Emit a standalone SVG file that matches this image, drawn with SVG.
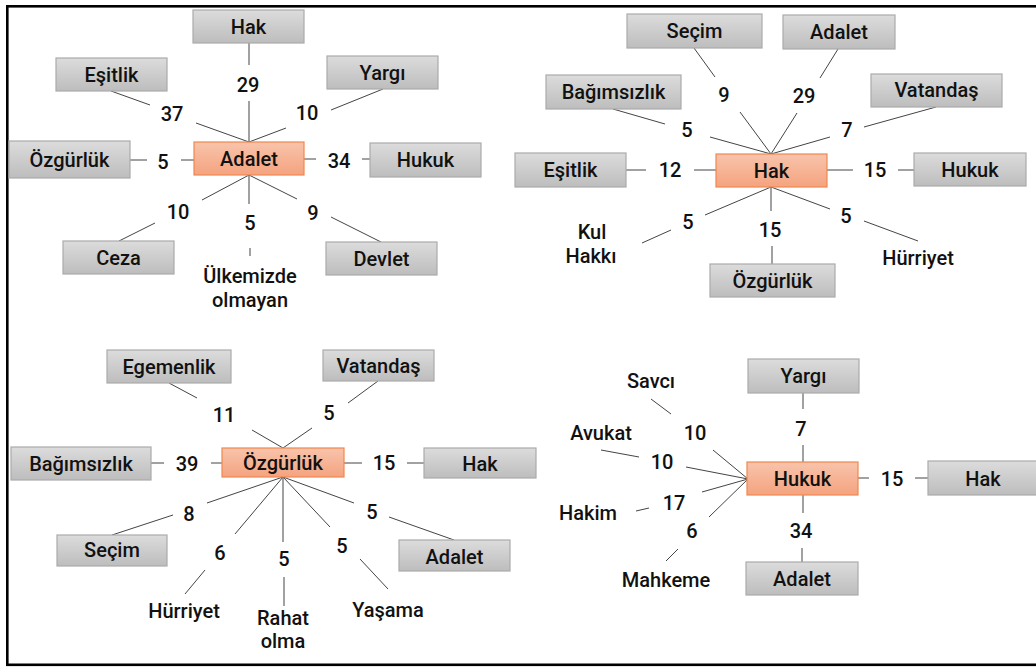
<svg xmlns="http://www.w3.org/2000/svg" width="1036" height="667" viewBox="0 0 1036 667">
  <defs>
    <linearGradient id="grayFill" x1="0" y1="0" x2="0" y2="1">
      <stop offset="0" stop-color="#dcdcdc"/>
      <stop offset="1" stop-color="#bdbdbd"/>
    </linearGradient>
    <linearGradient id="coreFill" x1="0" y1="0" x2="0" y2="1">
      <stop offset="0" stop-color="#f8c4ab"/>
      <stop offset="1" stop-color="#f4a37f"/>
    </linearGradient>
  </defs>
  <style>
    text { font-family: Roboto, "Liberation Sans", sans-serif; font-size: 20px; font-weight: 500; fill: #111; text-anchor: middle; }
    .box { fill: url(#grayFill); stroke: #ababab; stroke-width: 1.2; }
    .core { fill: url(#coreFill); stroke: #f0884f; stroke-width: 1.2; }
    .lbl { fill: #ffffff; stroke: none; }
    .edges line { stroke: #444; stroke-width: 1; }
    .frame { fill: none; stroke: #000; stroke-width: 2.6; }
  </style>

  <rect width="1036" height="667" fill="#ffffff"/>
  <rect class="frame" x="7.3" y="6.3" width="1040" height="658.5"/>

  <!-- label backgrounds -->
  <g id="label-backgrounds">
    <rect class="lbl" x="228" y="65" width="42" height="36"/>
    <rect class="lbl" x="150" y="104" width="46" height="30"/>
    <rect class="lbl" x="286" y="97" width="44" height="32"/>
    <rect class="lbl" x="147" y="144" width="34" height="34"/>
    <rect class="lbl" x="317" y="143" width="45" height="34"/>
    <rect class="lbl" x="158" y="195" width="44" height="32"/>
    <rect class="lbl" x="228" y="205" width="45" height="34"/>
    <rect class="lbl" x="297" y="195" width="32" height="32"/>

    <rect class="lbl" x="708" y="78" width="32" height="34"/>
    <rect class="lbl" x="778" y="77" width="52" height="36"/>
    <rect class="lbl" x="665" y="114" width="43" height="34"/>
    <rect class="lbl" x="830" y="114" width="34" height="34"/>
    <rect class="lbl" x="646" y="153" width="48" height="34"/>
    <rect class="lbl" x="853" y="153" width="45" height="34"/>
    <rect class="lbl" x="671" y="203" width="34" height="35"/>
    <rect class="lbl" x="748" y="211" width="46" height="35"/>
    <rect class="lbl" x="830" y="200" width="34" height="32"/>

    <rect class="lbl" x="197" y="397" width="53" height="35"/>
    <rect class="lbl" x="313" y="394" width="34" height="35"/>
    <rect class="lbl" x="165" y="446" width="45" height="31"/>
    <rect class="lbl" x="362" y="447" width="45" height="31"/>
    <rect class="lbl" x="173" y="500" width="34" height="28"/>
    <rect class="lbl" x="205" y="535" width="30" height="35"/>
    <rect class="lbl" x="268" y="542" width="32" height="35"/>
    <rect class="lbl" x="327" y="527" width="32" height="32"/>
    <rect class="lbl" x="354" y="500" width="35" height="30"/>

    <rect class="lbl" x="668" y="415" width="56" height="34"/>
    <rect class="lbl" x="783" y="409" width="43" height="36"/>
    <rect class="lbl" x="869" y="462" width="46" height="34"/>
    <rect class="lbl" x="780" y="513" width="45" height="35"/>
    <rect class="lbl" x="639" y="449" width="47" height="28"/>
    <rect class="lbl" x="650" y="492" width="50" height="28"/>
    <rect class="lbl" x="678" y="518" width="30" height="30"/>
  </g>

  <!-- connectors -->
  <g id="connectors" class="edges">
    <!-- Adalet -->
    <line x1="249" y1="43" x2="249" y2="65"/>
    <line x1="249" y1="101" x2="249" y2="142"/>
    <line x1="111" y1="91" x2="150" y2="105"/>
    <line x1="196" y1="123" x2="249" y2="142"/>
    <line x1="383" y1="89" x2="331" y2="110"/>
    <line x1="286" y1="128" x2="249" y2="142"/>
    <line x1="130" y1="160" x2="147" y2="160"/>
    <line x1="181" y1="160" x2="194" y2="160"/>
    <line x1="304" y1="159" x2="316" y2="159"/>
    <line x1="362" y1="159" x2="370" y2="159"/>
    <line x1="249" y1="175" x2="202" y2="200"/>
    <line x1="155" y1="223" x2="119" y2="241"/>
    <line x1="249" y1="175" x2="249" y2="204"/>
    <line x1="250" y1="248" x2="250" y2="256"/>
    <line x1="249" y1="175" x2="297" y2="199"/>
    <line x1="331" y1="217" x2="381" y2="242"/>
    <!-- Hak -->
    <line x1="694" y1="48" x2="715" y2="77"/>
    <line x1="740" y1="112" x2="771" y2="154"/>
    <line x1="838" y1="49" x2="820" y2="78"/>
    <line x1="797" y1="113" x2="771" y2="154"/>
    <line x1="613" y1="109" x2="665" y2="124"/>
    <line x1="710" y1="137" x2="771" y2="154"/>
    <line x1="936" y1="107" x2="864" y2="127"/>
    <line x1="830" y1="137" x2="771" y2="154"/>
    <line x1="626" y1="170" x2="646" y2="170"/>
    <line x1="694" y1="170" x2="716" y2="170"/>
    <line x1="827" y1="170" x2="853" y2="170"/>
    <line x1="898" y1="170" x2="914" y2="170"/>
    <line x1="771" y1="187" x2="705" y2="215"/>
    <line x1="671" y1="230" x2="642" y2="243"/>
    <line x1="771" y1="187" x2="771" y2="211"/>
    <line x1="772" y1="246" x2="772" y2="264"/>
    <line x1="771" y1="187" x2="830" y2="209"/>
    <line x1="864" y1="221" x2="918" y2="241"/>
    <!-- Özgürlük -->
    <line x1="169" y1="383" x2="197" y2="398"/>
    <line x1="252" y1="430" x2="283" y2="448"/>
    <line x1="378" y1="381" x2="348" y2="403"/>
    <line x1="312" y1="428" x2="283" y2="448"/>
    <line x1="151" y1="463" x2="164" y2="463"/>
    <line x1="211" y1="463" x2="222" y2="463"/>
    <line x1="344" y1="463" x2="362" y2="463"/>
    <line x1="407" y1="463" x2="424" y2="463"/>
    <line x1="283" y1="477" x2="207" y2="503"/>
    <line x1="173" y1="515" x2="112" y2="535"/>
    <line x1="283" y1="477" x2="235" y2="534"/>
    <line x1="205" y1="570" x2="185" y2="594"/>
    <line x1="283" y1="477" x2="283" y2="542"/>
    <line x1="284" y1="577" x2="284" y2="606"/>
    <line x1="283" y1="477" x2="330" y2="527"/>
    <line x1="360" y1="559" x2="388" y2="589"/>
    <line x1="283" y1="477" x2="354" y2="503"/>
    <line x1="389" y1="517" x2="454" y2="540"/>
    <!-- Hukuk -->
    <line x1="803" y1="393" x2="803" y2="409"/>
    <line x1="803" y1="445" x2="803" y2="462"/>
    <line x1="858" y1="478" x2="869" y2="478"/>
    <line x1="915" y1="478" x2="928" y2="478"/>
    <line x1="803" y1="495" x2="803" y2="513"/>
    <line x1="802" y1="548" x2="802" y2="562"/>
    <line x1="651" y1="399" x2="671" y2="414"/>
    <line x1="713" y1="450" x2="748" y2="479"/>
    <line x1="601" y1="450" x2="639" y2="457"/>
    <line x1="686" y1="467" x2="748" y2="479"/>
    <line x1="636" y1="511" x2="649" y2="508"/>
    <line x1="702" y1="492" x2="748" y2="479"/>
    <line x1="666" y1="561" x2="678" y2="549"/>
    <line x1="709" y1="517" x2="748" y2="479"/>
  </g>

  <!-- connector labels -->
  <g id="edge-labels">
    <text x="248" y="92">29</text>
    <text x="172" y="121">37</text>
    <text x="307" y="120">10</text>
    <text x="163" y="169">5</text>
    <text x="339" y="168">34</text>
    <text x="178" y="219">10</text>
    <text x="250" y="230">5</text>
    <text x="313" y="220">9</text>

    <text x="724" y="102">9</text>
    <text x="804" y="103">29</text>
    <text x="687" y="137">5</text>
    <text x="847" y="137">7</text>
    <text x="670" y="177">12</text>
    <text x="875" y="177">15</text>
    <text x="688" y="229">5</text>
    <text x="770" y="237">15</text>
    <text x="846" y="223">5</text>

    <text x="224" y="422">11</text>
    <text x="329" y="420">5</text>
    <text x="187" y="471">39</text>
    <text x="384" y="470">15</text>
    <text x="189" y="521">8</text>
    <text x="220" y="560">6</text>
    <text x="284" y="566">5</text>
    <text x="342" y="553">5</text>
    <text x="372" y="519">5</text>

    <text x="801" y="436">7</text>
    <text x="892" y="486">15</text>
    <text x="801" y="538">34</text>
    <text x="695" y="440">10</text>
    <text x="662" y="469">10</text>
    <text x="674" y="510">17</text>
    <text x="692" y="538">6</text>
  </g>

  <!-- Adalet cluster -->
  <g id="n-adalet"><rect class="core" x="194" y="142" width="110" height="33"/><text x="249" y="166">Adalet</text></g>
  <g id="n-adalet-hak"><rect class="box" x="193" y="10" width="111" height="33"/><text x="248.5" y="34">Hak</text></g>
  <g id="n-adalet-esitlik"><rect class="box" x="56" y="58" width="111" height="33"/><text x="111.5" y="82">Eşitlik</text></g>
  <g id="n-adalet-yargi"><rect class="box" x="327" y="56" width="111" height="33"/><text x="382.5" y="80">Yargı</text></g>
  <g id="n-adalet-ozgurluk"><rect class="box" x="9" y="141" width="121" height="37"/><text x="69.5" y="167">Özgürlük</text></g>
  <g id="n-adalet-hukuk"><rect class="box" x="370" y="143" width="111" height="34"/><text x="425.5" y="167">Hukuk</text></g>
  <g id="n-adalet-ceza"><rect class="box" x="63" y="241" width="111" height="33"/><text x="118.5" y="265">Ceza</text></g>
  <g id="n-adalet-devlet"><rect class="box" x="326" y="242" width="111" height="33"/><text x="381.5" y="266">Devlet</text></g>
  <g id="n-adalet-ulkemizde"><text x="250" y="283">Ülkemizde</text><text x="250" y="307">olmayan</text></g>

  <!-- Hak cluster -->
  <g id="n-hak"><rect class="core" x="716" y="154" width="111" height="33"/><text x="771.5" y="178">Hak</text></g>
  <g id="n-hak-secim"><rect class="box" x="627" y="14" width="135" height="34"/><text x="694.5" y="38">Seçim</text></g>
  <g id="n-hak-adalet"><rect class="box" x="783" y="15" width="112" height="34"/><text x="839" y="39">Adalet</text></g>
  <g id="n-hak-bagimsizlik"><rect class="box" x="546" y="75" width="135" height="34"/><text x="613.5" y="99">Bağımsızlık</text></g>
  <g id="n-hak-vatandas"><rect class="box" x="871" y="74" width="131" height="33"/><text x="936.5" y="97">Vatandaş</text></g>
  <g id="n-hak-esitlik"><rect class="box" x="515" y="153" width="111" height="34"/><text x="570.5" y="177">Eşitlik</text></g>
  <g id="n-hak-hukuk"><rect class="box" x="914" y="153" width="112" height="33"/><text x="970" y="177">Hukuk</text></g>
  <g id="n-hak-ozgurluk"><rect class="box" x="710" y="264" width="125" height="33"/><text x="772.5" y="288">Özgürlük</text></g>
  <g id="n-hak-kulhakki"><text x="592" y="239">Kul</text><text x="591" y="263">Hakkı</text></g>
  <g id="n-hak-hurriyet"><text x="918" y="265">Hürriyet</text></g>

  <!-- Özgürlük cluster -->
  <g id="n-ozgurluk"><rect class="core" x="222" y="448" width="122" height="29"/><text x="283" y="470">Özgürlük</text></g>
  <g id="n-ozg-egemenlik"><rect class="box" x="107" y="350" width="124" height="33"/><text x="169" y="374">Egemenlik</text></g>
  <g id="n-ozg-vatandas"><rect class="box" x="323" y="350" width="111" height="31"/><text x="378.5" y="373">Vatandaş</text></g>
  <g id="n-ozg-bagimsizlik"><rect class="box" x="11" y="447" width="140" height="33"/><text x="81" y="471">Bağımsızlık</text></g>
  <g id="n-ozg-hak"><rect class="box" x="424" y="448" width="112" height="30"/><text x="480" y="471">Hak</text></g>
  <g id="n-ozg-secim"><rect class="box" x="57" y="535" width="110" height="31"/><text x="112" y="557">Seçim</text></g>
  <g id="n-ozg-adalet"><rect class="box" x="399" y="540" width="111" height="31"/><text x="454.5" y="564">Adalet</text></g>
  <g id="n-ozg-hurriyet"><text x="184" y="618">Hürriyet</text></g>
  <g id="n-ozg-rahat"><text x="283" y="625">Rahat</text><text x="283" y="648">olma</text></g>
  <g id="n-ozg-yasama"><text x="388" y="617">Yaşama</text></g>

  <!-- Hukuk cluster -->
  <g id="n-hukuk"><rect class="core" x="747" y="462" width="111" height="33"/><text x="802.5" y="486">Hukuk</text></g>
  <g id="n-huk-yargi"><rect class="box" x="748" y="359" width="111" height="34"/><text x="803.5" y="383">Yargı</text></g>
  <g id="n-huk-hak"><rect class="box" x="928" y="461" width="112" height="34"/><text x="983" y="486">Hak</text></g>
  <g id="n-huk-adalet"><rect class="box" x="746" y="562" width="112" height="33"/><text x="802" y="586">Adalet</text></g>
  <g id="n-huk-savci"><text x="651" y="388">Savcı</text></g>
  <g id="n-huk-avukat"><text x="601" y="440">Avukat</text></g>
  <g id="n-huk-hakim"><text x="588" y="520">Hakim</text></g>
  <g id="n-huk-mahkeme"><text x="666" y="587">Mahkeme</text></g>
</svg>
